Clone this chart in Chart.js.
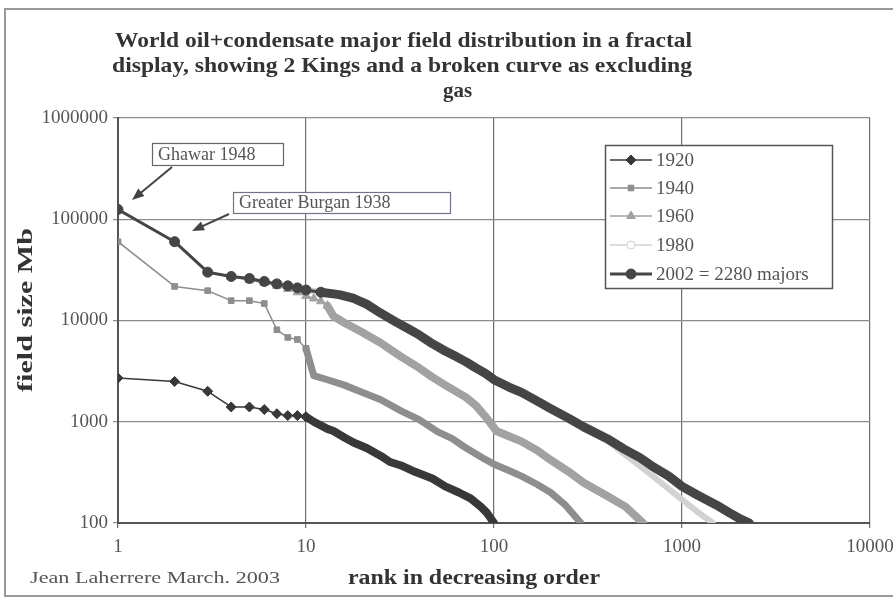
<!DOCTYPE html>
<html>
<head>
<meta charset="utf-8">
<script src="https://cdn.jsdelivr.net/npm/chart.js@4.4.1/dist/chart.umd.min.js"></script>
<style>
  html, body { margin: 0; padding: 0; background: #fff; }
  #wrap { width: 893px; height: 601px; }
</style>
</head>
<body>
<div id="wrap"><canvas id="chart" width="893" height="601"></canvas></div>
<script>
// values (rank -> field size in Mb)
const xTicks = [1, 10, 100, 1000, 10000];
const yTicks = [100, 1000, 10000, 100000, 1000000];
const seriesNames = ["1920", "1940", "1960", "1980", "2002 = 2280 majors"];

const rank1920 = [1, 2, 3, 4, 5, 6, 7, 8, 9, 10, 11, 13, 14, 16, 18, 21, 25, 28, 32, 38, 47, 55, 65, 75, 85, 92, 100];
const size1920 = [2700, 2500, 2000, 1400, 1400, 1320, 1200, 1150, 1150, 1120, 1000, 850, 810, 700, 620, 550, 460, 400, 370, 320, 275, 230, 200, 175, 145, 125, 100];

const rank1940 = [1, 2, 3, 4, 5, 6, 7, 8, 9, 10, 11, 13, 16, 20, 25, 32, 40, 50, 60, 70, 85, 100, 120, 140, 170, 200, 240, 290];
const size1940 = [60000, 21700, 19700, 15700, 15700, 14700, 8100, 6800, 6500, 5300, 2850, 2600, 2300, 1950, 1650, 1280, 1050, 800, 680, 560, 450, 380, 330, 290, 240, 200, 150, 100];

const rank1960 = [1, 2, 3, 4, 5, 6, 7, 8, 9, 10, 11, 12, 13, 14, 16, 20, 25, 32, 40, 47, 55, 71, 80, 91, 103, 120, 140, 170, 200, 250, 300, 400, 500, 620];
const size1960 = [125000, 60000, 30000, 27000, 25000, 23500, 22000, 20500, 19000, 17500, 16500, 15500, 14000, 11000, 9500, 7600, 6000, 4400, 3400, 2760, 2300, 1740, 1450, 1100, 810, 720, 640, 520, 420, 320, 250, 185, 145, 100];

const rank1980 = [1, 2, 3, 4, 5, 6, 7, 8, 9, 10, 13, 16, 20, 25, 30, 40, 50, 60, 70, 80, 100, 140, 200, 300, 400, 500, 700, 1000, 1200, 1460];
const size1980 = [125000, 60000, 30000, 27200, 26000, 24300, 23000, 22000, 21000, 20000, 18800, 17500, 14500, 11700, 9600, 7100, 5400, 4400, 3850, 3350, 2550, 1900, 1320, 870, 650, 470, 290, 170, 130, 100];

const rank2002 = [1, 2, 3, 4, 5, 6, 7, 8, 9, 10, 12, 15, 18, 21, 25, 30, 35, 40, 47, 55, 63, 71, 80, 90, 100, 120, 140, 170, 200, 250, 300, 400, 490, 600, 700, 850, 1000, 1200, 1530, 1800, 2000, 2280];
const size2002 = [125000, 60000, 30000, 27200, 26000, 24300, 23000, 22000, 21000, 20000, 19000, 18000, 16500, 14500, 11800, 9700, 8300, 7200, 5900, 5000, 4400, 3900, 3400, 3000, 2600, 2200, 1950, 1600, 1350, 1080, 890, 680, 540, 440, 360, 290, 230, 190, 150, 125, 112, 100];

const serif = "'Liberation Serif', 'Times New Roman', serif";

const pts = (r, v) => r.map((x, i) => ({ x: x, y: v[i] }));

// one style per series: marker shape, colours, thin/thick line, rank where markers stop
const looks = [
  { color: "#383838", fill: "#383838", shape: "rectRot", radius: 5, thin: 1.5, thick: 8, cut: 10 },
  { color: "#8e8e8e", fill: "#8e8e8e", shape: "rect", radius: 4, thin: 1.5, thick: 7, cut: 10 },
  { color: "#a2a2a2", fill: "#a2a2a2", shape: "triangle", radius: 5, thin: 1.5, thick: 8, cut: 13 },
  { color: "#d2d2d2", fill: "#ffffff", shape: "circle", radius: 4, thin: 1.5, thick: 6, cut: 10 },
  { color: "#454545", fill: "#454545", shape: "circle", radius: 5, thin: 3, thick: 9, cut: 12 }
];
const ranks = [rank1920, rank1940, rank1960, rank1980, rank2002];
const sizes = [size1920, size1940, size1960, size1980, size2002];
const drawOrder = [4, 3, 2, 1, 0];

const datasets = seriesNames.map((name, k) => {
  const s = looks[k], r = ranks[k];
  return {
    label: name,
    data: pts(r, sizes[k]),
    order: drawOrder[k],
    borderColor: s.color,
    backgroundColor: s.fill,
    pointBorderColor: s.color,
    pointBackgroundColor: s.fill,
    pointStyle: s.shape,
    pointBorderWidth: 1,
    pointRadius: c => (r[c.dataIndex] <= s.cut ? s.radius : 0),
    pointHoverRadius: 0,
    borderWidth: s.thin,
    borderJoinStyle: "round",
    borderCapStyle: "round",
    segment: { borderWidth: c => (r[c.p0DataIndex] >= s.cut ? s.thick : s.thin) },
    tension: 0,
    fill: false
  };
});

function fitText(ctx, text, x, y, w, font, color) {
  ctx.save();
  ctx.font = font;
  ctx.fillStyle = color;
  ctx.textAlign = "left";
  ctx.textBaseline = "middle";
  const m = ctx.measureText(text).width;
  ctx.translate(x, y);
  ctx.scale(w / m, 1);
  ctx.fillText(text, 0, 0);
  ctx.restore();
}

function arrow(ctx, x1, y1, x2, y2) {
  const a = Math.atan2(y2 - y1, x2 - x1);
  ctx.save();
  ctx.strokeStyle = "#444";
  ctx.fillStyle = "#444";
  ctx.lineWidth = 2;
  ctx.beginPath();
  ctx.moveTo(x1, y1);
  ctx.lineTo(x2 - 8 * Math.cos(a), y2 - 8 * Math.sin(a));
  ctx.stroke();
  ctx.beginPath();
  ctx.moveTo(x2, y2);
  ctx.lineTo(x2 - 13 * Math.cos(a - 0.38), y2 - 13 * Math.sin(a - 0.38));
  ctx.lineTo(x2 - 13 * Math.cos(a + 0.38), y2 - 13 * Math.sin(a + 0.38));
  ctx.closePath();
  ctx.fill();
  ctx.restore();
}

function callout(ctx, text, x, y, w, h, border) {
  ctx.save();
  ctx.fillStyle = "#fff";
  ctx.fillRect(x, y, w, h);
  ctx.strokeStyle = border;
  ctx.lineWidth = 1.2;
  ctx.strokeRect(x + 0.5, y + 0.5, w, h);
  ctx.restore();
  ctx.save();
  ctx.font = "18px " + serif;
  ctx.fillStyle = "#555";
  ctx.textBaseline = "middle";
  ctx.fillText(text, x + 6, y + h / 2 + 1);
  ctx.restore();
}

const decor = {
  id: "decor",
  beforeDraw(chart) {
    const ctx = chart.ctx;
    ctx.save();
    ctx.fillStyle = "#fff";
    ctx.fillRect(0, 0, chart.width, chart.height);
    ctx.strokeStyle = "#9a9a9a";
    ctx.lineWidth = 2;
    ctx.strokeRect(5, 9, 900, 587);
    ctx.restore();
  },
  afterDraw(chart) {
    const ctx = chart.ctx;
    const bold = "bold 22px " + serif;
    fitText(ctx, "World oil+condensate major field distribution in a fractal", 115, 41, 577, bold, "#333");
    fitText(ctx, "display, showing 2 Kings and a broken curve as excluding", 112, 66, 580, bold, "#333");
    fitText(ctx, "gas", 443, 91, 29, bold, "#333");

    ctx.save();
    ctx.translate(27, 310);
    ctx.rotate(-Math.PI / 2);
    fitText(ctx, "field size Mb", -82, 0, 164, "bold 21px " + serif, "#333");
    ctx.restore();

    fitText(ctx, "rank in decreasing order", 348, 579, 252, "bold 20px " + serif, "#333");
    fitText(ctx, "Jean Laherrere March. 2003", 30, 579, 250, "17px " + serif, "#555");

    // callouts
    callout(ctx, "Ghawar 1948", 152, 143, 131, 22, "#666");
    arrow(ctx, 172, 167, 132, 200);
    callout(ctx, "Greater Burgan 1938", 233, 192, 217, 21, "#7a6f8a");
    arrow(ctx, 229, 214, 192, 231);

    // legend
    ctx.save();
    ctx.fillStyle = "#fff";
    ctx.fillRect(605, 145, 227, 143);
    ctx.strokeStyle = "#555";
    ctx.lineWidth = 1.5;
    ctx.strokeRect(605.5, 145.5, 227, 143);
    const rows = [160, 188, 216, 245, 274];
    seriesNames.forEach((name, k) => {
      const s = looks[k], y = rows[k];
      ctx.strokeStyle = s.color;
      ctx.lineWidth = k === 4 ? 3 : 1.5;
      ctx.beginPath();
      ctx.moveTo(610, y);
      ctx.lineTo(652, y);
      ctx.stroke();
      ctx.fillStyle = s.fill;
      ctx.strokeStyle = s.color;
      ctx.lineWidth = 1;
      Chart.helpers.drawPoint(ctx, { pointStyle: s.shape, radius: s.radius, rotation: 0, borderWidth: 1 }, 631, y);
      ctx.font = "19px " + serif;
      ctx.fillStyle = "#555";
      ctx.textBaseline = "middle";
      ctx.fillText(name, 656, y + 1);
    });
    ctx.restore();
  }
};

new Chart(document.getElementById("chart"), {
  type: "line",
  data: { datasets: datasets },
  plugins: [decor],
  options: {
    responsive: false,
    animation: false,
    events: [],
    layout: { padding: { left: 0, top: 118, right: 23, bottom: 38 } },
    plugins: {
      legend: { display: false },
      title: { display: false },
      tooltip: { enabled: false }
    },
    scales: {
      x: {
        type: "logarithmic",
        min: 1,
        max: 10000,
        afterBuildTicks: s => { s.ticks = xTicks.map(v => ({ value: v })); },
        afterFit: s => { s.height = 40; s.paddingLeft = 0; s.paddingRight = 0; },
        ticks: {
          color: "#555",
          font: { family: serif, size: 19 },
          padding: 8,
          maxRotation: 0,
          autoSkip: false,
          callback: v => String(v)
        },
        grid: { color: "#6e6e6e", lineWidth: 1.2, tickLength: 5 },
        border: { color: "#555", width: 2 }
      },
      y: {
        type: "logarithmic",
        min: 100,
        max: 1000000,
        afterBuildTicks: s => { s.ticks = yTicks.map(v => ({ value: v })); },
        afterFit: s => { s.width = 118; s.paddingTop = 0; s.paddingBottom = 0; },
        ticks: {
          color: "#555",
          font: { family: serif, size: 19 },
          padding: 5,
          autoSkip: false,
          callback: v => String(v)
        },
        grid: { color: "#8c8c8c", lineWidth: 1.2, tickLength: 5 },
        border: { color: "#555", width: 2 }
      }
    }
  }
});
</script>
</body>
</html>
